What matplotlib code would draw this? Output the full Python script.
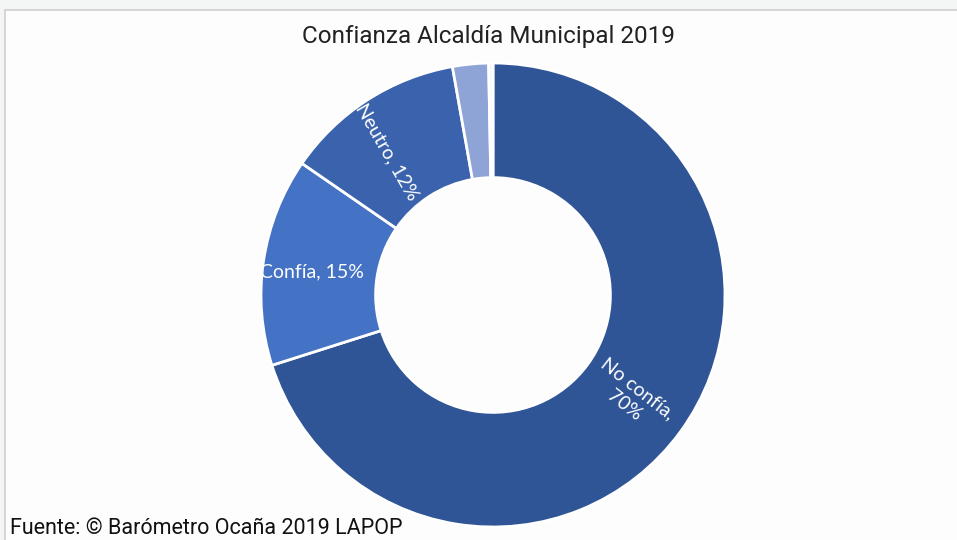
import matplotlib.pyplot as plt
from matplotlib.patches import Rectangle

# Confianza en la Alcaldía Municipal (Barómetro Ocaña 2019)
categorias = ['No confía', 'Confía', 'Neutro', 'NS', 'NR']
valores = [70.1, 14.5, 12.6, 2.5, 0.3]
etiquetas = ['No confía,\n70%', 'Confía, 15%', 'Neutro, 12%', '', '']
colores = ['#2f5597', '#4472c4', '#3a62ad', '#8fa4d6', '#f4f6fb']

fig = plt.figure(figsize=(9.57, 5.4), dpi=100)
fig.patch.set_facecolor('#f4f5f5')

# chart frame (light gray border top/left)
fig.patches.append(Rectangle((5 / 957, -0.01), 1.0, (540 - 10) / 540 + 0.01,
                             transform=fig.transFigure, facecolor='#fdfdfd',
                             edgecolor='#cfcfcf', linewidth=1.2, zorder=-5))

ax = fig.add_axes([(493 - 232) / 957, (540 - 295 - 232) / 540, 464 / 957, 464 / 540])
ax.set_zorder(2)
wedges, _ = ax.pie(valores, colors=colores, startangle=90, counterclock=False,
                   radius=1.0, wedgeprops=dict(width=0.494, edgecolor='white', linewidth=2))
ax.set_xlim(-1, 1)
ax.set_ylim(-1, 1)
ax.axis('off')

# labels inside the ring (positions in axes data units)
lab_font = ['Lato', 'DejaVu Sans']
ax.text(0.595, -0.44, etiquetas[0], rotation=-38, ha='center', va='center',
        color='white', fontsize=14, family=lab_font, linespacing=1.3)
ax.text(-0.78, 0.10, etiquetas[1], rotation=0, ha='center', va='center',
        color='white', fontsize=14, family=lab_font)
ax.text(-0.455, 0.615, etiquetas[2], rotation=-60, ha='center', va='center',
        color='white', fontsize=14, family=lab_font)

fig.text(489 / 957, 1 - 37 / 540, 'Confianza Alcaldía Municipal 2019', ha='center', va='center',
         fontsize=17.5, color='#222222', family=['Roboto', 'DejaVu Sans'])
fig.text(10 / 957, 1 - 529 / 540, 'Fuente: © Barómetro Ocaña 2019 LAPOP', ha='left', va='center',
         fontsize=15.5, color='#111111', family=['Roboto', 'DejaVu Sans'])

fig.savefig('out.png', dpi=100, facecolor=fig.get_facecolor())
